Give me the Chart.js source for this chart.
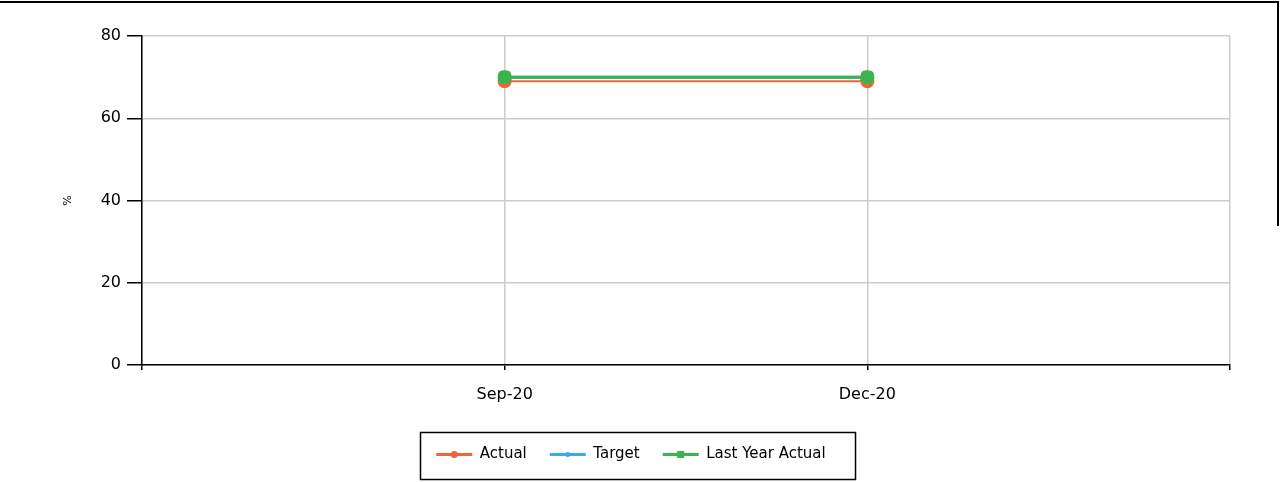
<!DOCTYPE html>
<html lang="en">
<head>
<meta charset="UTF-8">
<title>Actual vs Target</title>
<script src="https://cdn.jsdelivr.net/npm/chart.js"></script>
<style>
  html, body { margin: 0; padding: 0; background: #fff; }
  #wrap { position: relative; width: 1283px; height: 482px; }
  .frameTop { position: absolute; left: 0; top: 1px; width: 1279px; height: 2px; background: #000; }
  .frameRight { position: absolute; left: 1277px; top: 1px; width: 2px; height: 225px; background: #000; }
</style>
</head>
<body>
<div id="wrap">
  <canvas id="grafico" width="1283" height="482"></canvas>
  <div class="frameTop"></div>
  <div class="frameRight"></div>
</div>

<script>
  // dados do gráfico
  const categorias = ['Sep-20', 'Dec-20'];
  const actual = [69, 69];
  const target = [70, 70];
  const lastYearActual = [70, 70];
  const ticksY = [0, 20, 40, 60, 80];

  // eixo x tem uma posição vazia antes e depois das categorias
  const labels = [''].concat(categorias, ['']);
  function preencher(valores) {
    return [null].concat(valores, [null]);
  }

  const fonteEixo = { family: 'DejaVu Sans', size: 16 };
  const fonteLegenda = { family: 'DejaVu Sans', size: 15 };
  const deslocLegenda = 16;

  // legenda um pouco deslocada para a direita, ponto no meio da linha e caixa em volta
  const legendaCaixa = {
    id: 'legendaCaixa',
    beforeDraw(chart) {
      const leg = chart.legend;
      if (!leg._deslocada) {
        leg.left += deslocLegenda;
        leg.right += deslocLegenda;
        leg.legendHitBoxes.forEach(function (b) { b.left += deslocLegenda; });
        leg._deslocada = true;
      }
    },
    afterDraw(chart) {
      const leg = chart.legend;
      const ctx = chart.ctx;
      ctx.save();
      leg.legendHitBoxes.forEach(function (box, i) {
        const idx = leg.legendItems[i].datasetIndex;
        const ds = chart.data.datasets[idx];
        ctx.fillStyle = ds.borderColor;
        const cx = box.left + 18;
        const cy = box.top + box.height / 2;
        ctx.beginPath();
        if (idx === 0) {
          ctx.arc(cx, cy, 3.5, 0, Math.PI * 2);
        } else if (idx === 1) {
          ctx.arc(cx, cy, 2.5, 0, Math.PI * 2);
        } else {
          ctx.rect(cx - 3.5, cy - 3.5, 7, 7);
        }
        ctx.fill();
      });
      ctx.strokeStyle = '#000';
      ctx.lineWidth = 1.5;
      ctx.strokeRect(420.5, 432.5, 435, 47);
      ctx.restore();
    }
  };

  const config = {
    type: 'line',
    data: {
      labels: labels,
      datasets: [
        {
          label: 'Actual',
          data: preencher(actual),
          borderColor: '#f0643c',
          backgroundColor: '#f0643c',
          borderWidth: 2,
          pointStyle: 'circle',
          pointRadius: 6,
          order: 3
        },
        {
          label: 'Target',
          data: preencher(target),
          borderColor: '#3aaae8',
          backgroundColor: '#3aaae8',
          borderWidth: 3,
          pointStyle: 'star',
          pointRadius: 7,
          order: 2
        },
        {
          label: 'Last Year Actual',
          data: preencher(lastYearActual),
          borderColor: '#3cb44c',
          backgroundColor: '#3cb44c',
          borderWidth: 3,
          pointStyle: 'rectRounded',
          pointRadius: 6,
          order: 1
        }
      ]
    },
    options: {
      responsive: false,
      animation: false,
      layout: { padding: { left: 0, right: 53, top: 36, bottom: 10 } },
      scales: {
        x: {
          offset: false,
          grid: { color: '#cccccc', tickColor: '#000', tickLength: 5, lineWidth: 1.5 },
          border: { color: '#000', width: 1.5 },
          ticks: { color: '#000', font: fonteEixo, padding: 15, maxRotation: 0, autoSkip: false },
          afterFit(scale) { scale.height = 59; }
        },
        y: {
          min: 0,
          max: 80,
          afterBuildTicks(scale) {
            scale.ticks = ticksY.map(function (v) { return { value: v }; });
          },
          grid: { color: '#cccccc', tickColor: '#000', tickLength: 15, lineWidth: 1.5 },
          border: { color: '#000', width: 1.5 },
          ticks: { color: '#000', font: fonteEixo, padding: 6 },
          title: { display: true, text: '%', color: '#000', font: { family: 'DejaVu Sans', size: 11 }, padding: { top: 62, bottom: 0 } },
          afterFit(scale) { scale.width = 142; }
        }
      },
      plugins: {
        legend: {
          position: 'bottom',
          labels: {
            color: '#000',
            font: fonteLegenda,
            boxWidth: 36,
            boxHeight: 3,
            padding: 23,
            sort: function (a, b) { return a.datasetIndex - b.datasetIndex; },
            generateLabels: function (chart) {
              const itens = Chart.defaults.plugins.legend.labels.generateLabels(chart);
              itens.forEach(function (item) { item.lineWidth = 0; });
              return itens;
            }
          }
        },
        tooltip: { enabled: false }
      }
    },
    plugins: [legendaCaixa]
  };

  new Chart(document.getElementById('grafico'), config);
</script>
</body>
</html>
